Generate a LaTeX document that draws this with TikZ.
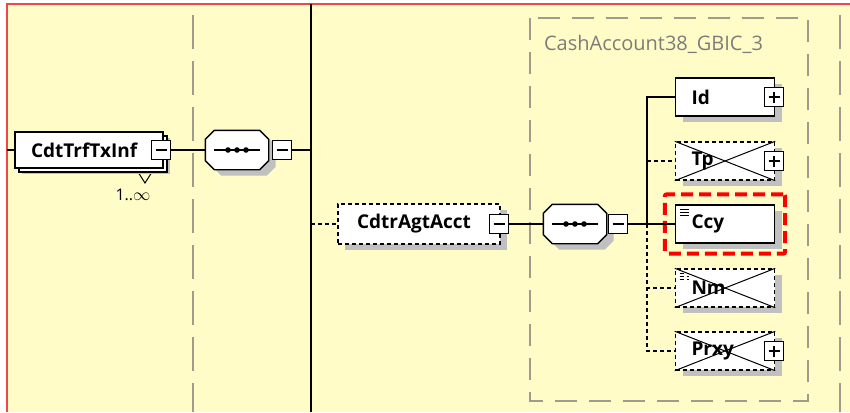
\documentclass[tikz,border=0pt]{standalone}
\usepackage{fontspec}
\setmainfont{Open Sans}
\usetikzlibrary{shadows,fit}
\definecolor{paneyellow}{RGB}{255,252,200}
\definecolor{framered}{RGB}{240,70,70}
\definecolor{guidegray}{RGB}{160,155,140}
\definecolor{shadegray}{RGB}{192,192,192}
\definecolor{titlegray}{RGB}{125,125,120}

\begin{document}
\begin{tikzpicture}[x=1pt,y=-1pt,line width=1.4pt,
	shade/.style={drop shadow={shadow xshift=7pt,shadow yshift=-6pt,fill=shadegray,opacity=1}},
	elem/.style={draw,fill=white,rectangle,shade,minimum height=38pt,inner xsep=16pt,
		text width=#1,align=left,font=\bfseries\fontsize{19}{22}\selectfont},
	elem/.default=67pt,
	opt/.style={dash pattern=on 4pt off 3pt},
	crossed/.style={append after command={(\tikzlastnode.north west) edge[line width=1pt] 
		(\tikzlastnode.south east) (\tikzlastnode.south west) edge[line width=1pt] (\tikzlastnode.north east)}},
	doc/.style={path picture={\foreach \dy in {4,7,10}
		\draw[line width=0.8pt] ([xshift=4pt,yshift=-\dy pt]path picture bounding box.north west) -- ++(9,0);}},
	togglebox/.style={draw,fill=white,rectangle,minimum size=19pt,inner sep=0pt},
	minusbox/.style={togglebox,path picture={\draw[line width=1.2pt] 
		([xshift=4pt]path picture bounding box.west) -- ([xshift=-4pt]path picture bounding box.east);}},
	plusbox/.style={togglebox,path picture={\draw[line width=1.2pt] 
		([xshift=4pt]path picture bounding box.west) -- ([xshift=-4pt]path picture bounding box.east)
		([yshift=-4pt]path picture bounding box.north) -- ([yshift=4pt]path picture bounding box.south);}},
	seqslot/.style={rectangle,minimum width=62pt,minimum height=38pt,inner sep=0pt},
	seqshape/.style={draw,fill=white,shade},
	optlink/.style={line width=1.3pt,dash pattern=on 4pt off 3pt},
	guide/.style={draw=guidegray,line width=1.6pt,dash pattern=on 34pt off 12pt},
	hilite/.style={draw=red,line width=4pt,dash pattern=on 12pt off 6pt,rounded corners=2pt,inner sep=10pt}]
	
	\useasboundingbox (0,0) rectangle (850,412);
	
	%Fondo e cornice
	\fill[paneyellow] (7,4) rectangle (850,412);
	\draw[framered,line width=2pt] (7,412) -- (7,4) -- (850,4);
	
	%Linee guida
	\draw[guide] (193,15) -- (193,412);
	\draw[guide] (840,15) -- (840,412);
	\draw[draw=guidegray,line width=1.6pt,dash pattern=on 22pt off 12pt] (530,18) rectangle (808,401);
	\node (typename) at (540,44) [anchor=west, text=titlegray, font=\fontsize{20}{24}\selectfont]{CashAccount38\_GBIC\_3};
	
	%Spina dorsale
	\coordinate (spinetop) at (311,4);
	\coordinate (spinebot) at (311,412);
	\draw[line width=2pt] (spinetop) -- (spinebot);
	
	%Nodes
	\draw[line width=1pt] (138,172) -- (145,183) -- (152,172);
	\node (txinf) at (89,150) [elem=116pt, minimum height=36pt,
		copy shadow={shadow xshift=4pt,shadow yshift=-4pt,fill=white,draw=black}]{CdtTrfTxInf};
	\node (txinfmin) at (161,150) [minusbox]{};
	\node (txinfocc) at (133,195) [font=\fontsize{16}{18}\selectfont]{1..$\infty$};
	
	%Sequenze
	\node (seqa) at (237,150) [seqslot]{};
	\node (seqb) at (575,224) [seqslot]{};
	\foreach \s in {seqa,seqb}{
		\draw[seqshape] ([xshift=9pt]\s.north west) -- ([xshift=-9pt]\s.north east) 
			-- ([yshift=-9pt]\s.north east) -- ([yshift=9pt]\s.south east) 
			-- ([xshift=-9pt]\s.south east) -- ([xshift=9pt]\s.south west) 
			-- ([yshift=9pt]\s.south west) -- ([yshift=-9pt]\s.north west) -- cycle;
		\draw[line width=1.2pt] ([xshift=-23pt]\s.center) -- ([xshift=23pt]\s.center);
		\foreach \dx in {-9,0,9} \fill[black] ([xshift=\dx pt]\s.center) circle (2.8);
	}
	\node (seqamin) at (282,150) [minusbox]{};
	\node (seqbmin) at (618,224) [minusbox]{};
	
	\node (agtacct) at (419,224) [elem=124pt, inner xsep=19pt, minimum height=40pt, opt]{CdtrAgtAcct};
	\node (agtmin) at (499,224) [minusbox]{};
	
	\node (id) at (725,97) [elem]{Id};
	\node (idplus) at (774,97) [plusbox]{};
	\node (tp) at (725,161) [elem, opt, crossed]{Tp};
	\node (tpplus) at (774,161) [plusbox]{};
	\node (ccy) at (725,224) [elem, doc]{Ccy};
	\node (nm) at (725,288) [elem, opt, doc, crossed]{Nm};
	\node (prxy) at (725,351) [elem, opt, crossed]{Prxy};
	\node (prxyplus) at (774,351) [plusbox]{};
	
	%Evidenziazione
	\node (ccyhl) [hilite, fit=(ccy)]{};
	
	%Links
	\coordinate (lin) at (7,150);
	\coordinate (fork) at (647,224);
	\draw (lin) -- (txinf);
	\draw (txinfmin) -- (seqa);
	\draw (seqamin) -- (spinetop |- seqamin);
	\draw[optlink] (spinetop |- agtacct) -- (agtacct);
	\draw (agtmin) -- (seqb);
	\draw (seqbmin) -- (ccy);
	\draw (fork) |- (id);
	\draw[optlink] (fork |- tp) -- (tp);
	\draw[optlink] (fork) |- (nm);
	\draw[optlink] (fork) |- (prxy);
	
\end{tikzpicture}
\end{document}
